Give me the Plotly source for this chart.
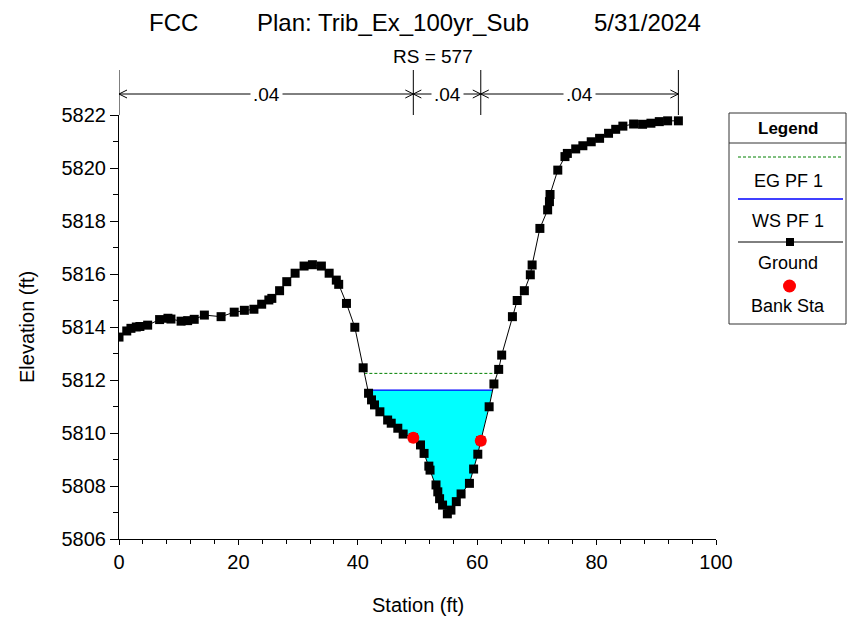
import numpy as np
import plotly.graph_objects as go

# ---------------- data ----------------
station = [0.0, 1.3, 2.0, 2.9, 3.5, 4.8, 6.8, 8.2, 8.7, 10.4, 11.5, 12.6, 14.3, 17.1,
           19.3, 21.0, 22.6, 23.9, 25.1, 25.6, 26.9, 28.1, 29.5, 31.0, 32.4, 33.9,
           35.2, 36.4, 36.8, 38.1, 39.5, 40.9, 41.8, 42.3, 42.8, 43.7, 45.0, 45.6,
           46.7, 47.6, 49.3, 50.5, 51.1, 51.9, 52.1, 53.1, 53.4, 53.7, 54.2, 55.0,
           55.6, 56.5, 57.3, 58.7, 59.4, 60.1, 60.6, 62.0, 62.8, 63.6, 64.1, 65.9,
           66.7, 67.9, 68.9, 69.2, 70.5, 71.8, 72.1, 72.2, 73.5, 74.7, 75.1, 76.5,
           77.7, 79.1, 80.5, 82.0, 83.2, 84.4, 86.2, 87.7, 89.1, 90.5, 91.9, 93.7]
elevation = [5813.62, 5813.85, 5813.95, 5814.00, 5814.02, 5814.07, 5814.28, 5814.33,
             5814.30, 5814.22, 5814.24, 5814.29, 5814.45, 5814.39, 5814.56, 5814.63,
             5814.67, 5814.86, 5815.02, 5815.08, 5815.37, 5815.71, 5816.03, 5816.30,
             5816.35, 5816.30, 5816.03, 5815.77, 5815.61, 5814.89, 5813.99, 5812.46,
             5811.50, 5811.25, 5811.06, 5810.80, 5810.49, 5810.37, 5810.18, 5809.96,
             5809.82, 5809.55, 5809.23, 5808.75, 5808.60, 5808.04, 5807.78, 5807.52,
             5807.28, 5806.95, 5807.09, 5807.41, 5807.70, 5808.10, 5808.64, 5809.20,
             5809.71, 5810.99, 5811.85, 5812.40, 5812.94, 5814.39, 5815.00, 5815.37,
             5815.97, 5816.34, 5817.72, 5818.42, 5818.73, 5819.00, 5819.92, 5820.43,
             5820.55, 5820.72, 5820.84, 5820.99, 5821.12, 5821.31, 5821.46, 5821.58,
             5821.66, 5821.65, 5821.69, 5821.75, 5821.78, 5821.78]
bank_station = [49.3, 60.6]
bank_elevation = [5809.82, 5809.71]
ws_elev = 5811.62   # WS PF 1
eg_elev = 5812.25   # EG PF 1
n_values = [".04", ".04", ".04"]
title_parts = ["FCC", "Plan: Trib_Ex_100yr_Sub", "5/31/2024"]
subtitle = "RS = 577"
x_ticks = [0, 20, 40, 60, 80, 100]
y_ticks = [5806, 5808, 5810, 5812, 5814, 5816, 5818, 5820, 5822]

FONT = "Liberation Sans, Arial, sans-serif"
EG_COLOR = "#008000"

# ------------- helpers -------------
sx = np.array(station)
sz = np.array(elevation)
imin = int(np.argmin(sz))


def crossings(level):
    i = imin
    while i > 0 and sz[i - 1] < level:
        i -= 1
    j = imin
    while j < len(sz) - 1 and sz[j + 1] < level:
        j += 1
    xl = sx[i - 1] + (level - sz[i - 1]) * (sx[i] - sx[i - 1]) / (sz[i] - sz[i - 1])
    xr = sx[j] + (level - sz[j]) * (sx[j + 1] - sx[j]) / (sz[j + 1] - sz[j])
    return xl, xr, i, j


wl, wr, wi, wj = crossings(ws_elev)
el, er, _, _ = crossings(eg_elev)

fill_x = [wl] + list(sx[wi:wj + 1]) + [wr, wl]
fill_y = [ws_elev] + list(sz[wi:wj + 1]) + [ws_elev, ws_elev]

fig = go.Figure()
fig.add_trace(go.Scatter(x=fill_x, y=fill_y, mode="lines", fill="toself",
                         fillcolor="#00FFFF", line=dict(width=0), hoverinfo="skip",
                         showlegend=False))
fig.add_trace(go.Scatter(x=[el, er], y=[eg_elev, eg_elev], mode="lines", name="EG PF 1",
                         line=dict(color=EG_COLOR, width=1, dash="3px,2px"), showlegend=False))
fig.add_trace(go.Scatter(x=[wl, wr], y=[ws_elev, ws_elev], mode="lines", name="WS PF 1",
                         line=dict(color="#0000FF", width=1.3), showlegend=False))
fig.add_trace(go.Scatter(x=station, y=elevation, mode="lines+markers", name="Ground",
                         line=dict(color="black", width=1),
                         marker=dict(symbol="square", size=9, color="black"),
                         showlegend=False))
fig.add_trace(go.Scatter(x=bank_station, y=bank_elevation, mode="markers", name="Bank Sta",
                         marker=dict(symbol="circle", size=12, color="#FF0000"),
                         showlegend=False))

# ------------- layout geometry (page pixels; page body has an 8px margin) -------------
OFF = 8
W, H = 859, 622
L, R, T, B = 119, 143, 115, 83
PW, PH = W - L - R, H - T - B


def px(xp):
    return (xp - L) / PW


def py(yp):
    return (H - B - yp) / PH


shapes = []
annotations = []

# n-value brackets
bounds = [station[0], bank_station[0], bank_station[1], station[-1]]
yb = py(94)
for b in bounds:
    shapes.append(dict(type="line", xref="x", yref="paper", x0=b, x1=b, y0=1.0, y1=py(70),
                       line=dict(color="black", width=1)))
dx = 8 / PW * 100
dy = 4 / PH
for k in range(3):
    a, b = bounds[k], bounds[k + 1]
    shapes.append(dict(type="line", xref="x", yref="paper", x0=a, x1=b, y0=yb, y1=yb,
                       line=dict(color="black", width=1)))
    shapes.append(dict(type="path", xref="x", yref="paper",
                       path=f"M {a+dx},{yb+dy} L {a},{yb} L {a+dx},{yb-dy}",
                       line=dict(color="black", width=1)))
    shapes.append(dict(type="path", xref="x", yref="paper",
                       path=f"M {b-dx},{yb+dy} L {b},{yb} L {b-dx},{yb-dy}",
                       line=dict(color="black", width=1)))
    annotations.append(dict(x=(a + b) / 2, y=yb, xref="x", yref="paper", text=n_values[k],
                            showarrow=False, bgcolor="white", borderpad=2,
                            font=dict(family=FONT, size=19, color="black"),
                            xanchor="center", yanchor="middle"))

# titles
for txt, cx in zip(title_parts, [173, 393, 647]):
    annotations.append(dict(x=px(cx), y=py(23), xref="paper", yref="paper", text=txt,
                            showarrow=False, font=dict(family=FONT, size=24, color="black"),
                            xanchor="center", yanchor="middle"))
annotations.append(dict(x=px(433), y=py(57), xref="paper", yref="paper", text=subtitle,
                        showarrow=False, font=dict(family=FONT, size=19, color="black"),
                        xanchor="center", yanchor="middle"))
annotations.append(dict(x=0.5, y=py(605), xref="paper", yref="paper", text="Station (ft)",
                        showarrow=False, font=dict(family=FONT, size=20, color="black"),
                        xanchor="center", yanchor="middle"))
annotations.append(dict(x=px(27), y=py(327), xref="paper", yref="paper", text="Elevation (ft)",
                        showarrow=False, textangle=-90,
                        font=dict(family=FONT, size=20, color="black"),
                        xanchor="center", yanchor="middle"))

# custom legend box
lx0, lx1, ly0, ly1 = 729, 846, 113, 324
shapes.append(dict(type="rect", xref="paper", yref="paper", x0=px(lx0), x1=px(lx1),
                   y0=py(ly1), y1=py(ly0), line=dict(color="#333333", width=1),
                   fillcolor="white", layer="below"))
shapes.append(dict(type="line", xref="paper", yref="paper", x0=px(lx0), x1=px(lx1),
                   y0=py(143), y1=py(143), line=dict(color="#333333", width=1)))
annotations.append(dict(x=px(788), y=py(128), xref="paper", yref="paper", text="<b>Legend</b>",
                        showarrow=False, font=dict(family=FONT, size=17, color="black"),
                        xanchor="center", yanchor="middle"))
shapes.append(dict(type="line", xref="paper", yref="paper", x0=px(738), x1=px(843),
                   y0=py(157), y1=py(157), line=dict(color=EG_COLOR, width=1, dash="3px,2px")))
shapes.append(dict(type="line", xref="paper", yref="paper", x0=px(738), x1=px(843),
                   y0=py(199), y1=py(199), line=dict(color="#0000FF", width=1.3)))
shapes.append(dict(type="line", xref="paper", yref="paper", x0=px(738), x1=px(843),
                   y0=py(242), y1=py(242), line=dict(color="black", width=1)))
shapes.append(dict(type="rect", xref="paper", yref="paper", x0=px(786), x1=px(794),
                   y0=py(246), y1=py(238), line=dict(width=0), fillcolor="black"))
shapes.append(dict(type="circle", xref="paper", yref="paper", x0=px(783), x1=px(796),
                   y0=py(292.5), y1=py(279.5), line=dict(width=0), fillcolor="#FF0000"))
for txt, yy in [("EG PF 1", 181), ("WS PF 1", 221), ("Ground", 263), ("Bank Sta", 306)]:
    annotations.append(dict(x=px(788), y=py(yy), xref="paper", yref="paper", text=txt,
                            showarrow=False, font=dict(family=FONT, size=18, color="black"),
                            xanchor="center", yanchor="middle"))

fig.update_layout(
    width=W - OFF, height=H - OFF,
    margin=dict(l=L - OFF, r=R, t=T - OFF, b=B, pad=0),
    paper_bgcolor="white", plot_bgcolor="white",
    showlegend=False,
    shapes=shapes, annotations=annotations,
    xaxis=dict(range=[0, 100], tickmode="array", tickvals=x_ticks,
               ticks="outside", ticklen=5, tickcolor="black", showline=True,
               linecolor="black", linewidth=1, showgrid=False, zeroline=False,
               tickfont=dict(family=FONT, size=20, color="black"),
               minor=dict(dtick=4, tick0=0, ticks="outside", ticklen=4, tickcolor="black",
                          showgrid=False)),
    yaxis=dict(range=[5806, 5822], tickmode="array", tickvals=y_ticks,
               ticks="outside", ticklen=8, tickcolor="black", showline=True,
               linecolor="black", linewidth=1, showgrid=False, zeroline=False,
               tickfont=dict(family=FONT, size=20, color="black"),
               minor=dict(dtick=1, tick0=5806, ticks="outside", ticklen=5, tickcolor="black",
                          showgrid=False)),
)

fig.write_html("out.html")
